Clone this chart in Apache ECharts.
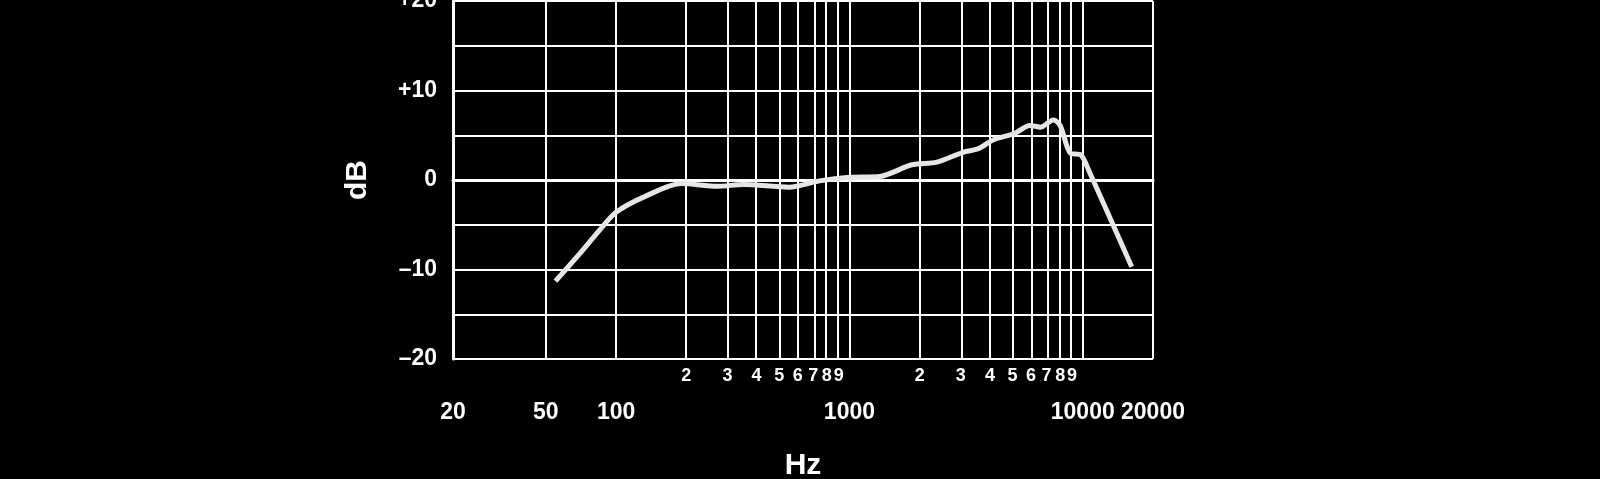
<!DOCTYPE html>
<html><head><meta charset="utf-8">
<script src="https://cdn.jsdelivr.net/npm/echarts@6/dist/echarts.min.js"></script>
<style>html,body{margin:0;background:#000}#c{width:1600px;height:479px}</style>
</head><body><div id="c"></div>
<script>
const freqs = [55,70,85,100,134,191,272,350,551,744,1000,1350,1850,2370,3070,3570,4150,5100,5940,6570,7490,8000,8850,9800,10600,16200];
const dB    = [-11.3,-8.2,-5.6,-3.6,-1.8,-0.4,-0.7,-0.5,-0.8,-0.1,0.3,0.4,1.7,2.0,3.1,3.5,4.5,5.2,6.1,5.9,6.7,6.1,3.0,2.8,1.1,-9.7];
const gridFreqs = [50,100,200,300,400,500,600,700,800,900,1000,2000,3000,4000,5000,6000,7000,8000,9000,10000];
const minorLabels = [200,300,400,500,600,700,800,900,2000,3000,4000,5000,6000,7000,8000,9000];
const majorLabels = [20,50,100,1000,10000,20000];
const yTicks = [-20,-10,0,10,20];
const L = Math.log10;
const font = 'Liberation Sans, Arial, sans-serif';
const chart = echarts.init(document.getElementById('c'));
const xBase = {type:'value', min:L(20), max:L(20000), position:'bottom', splitLine:{show:false}, axisTick:{show:false}};
chart.setOption({
  backgroundColor:'#000',
  animation:false,
  grid:{left:453,right:447,top:1,bottom:120,outerBoundsMode:'none',containLabel:false},
  xAxis:[
    Object.assign({}, xBase, {
      axisLine:{show:true,lineStyle:{color:'#fff',width:3}},
      axisLabel:{customValues:minorLabels.map(L), color:'#fff', fontFamily:font, fontWeight:'bold', fontSize:18, margin:8,
        formatter:v=>{const f=Math.round(Math.pow(10,v)); return String(Math.round(f/Math.pow(10,Math.floor(Math.log10(f)+1e-9))));}},
      name:'Hz', nameLocation:'middle', nameGap:92, nameTextStyle:{color:'#fff',fontFamily:font,fontWeight:'bold',fontSize:30}
    }),
    Object.assign({}, xBase, {
      offset:38, axisLine:{show:false},
      axisLabel:{customValues:majorLabels.map(L), color:'#fff', fontFamily:font, fontWeight:'bold', fontSize:23, margin:4,
        formatter:v=>String(Math.round(Math.pow(10,v)))}
    })
  ],
  yAxis:{type:'value',min:-20,max:20,interval:5,
    axisLine:{show:true,lineStyle:{color:'#fff',width:3}}, axisTick:{show:false},
    splitLine:{show:true,lineStyle:{color:'#fff',width:2}},
    axisLabel:{color:'#fff',fontFamily:font,fontWeight:'bold',fontSize:23,margin:16,
      formatter:v=>yTicks.includes(v)?(v>0?'+'+v:(v<0?'\u2013'+(-v):'0')):''},
    name:'dB',nameLocation:'middle',nameGap:80,nameRotate:90,nameTextStyle:{color:'#fff',fontFamily:font,fontWeight:'bold',fontSize:30}
  },
  series:[{
    type:'line', xAxisIndex:0, smooth:0.3, symbol:'none',
    data:freqs.map((f,i)=>[L(f),dB[i]]),
    lineStyle:{color:'#e6e6e6',width:5},
    z:5,
    markLine:{silent:true,symbol:'none',label:{show:false},
      lineStyle:{color:'#fff',width:2,type:'solid'},
      data:gridFreqs.map(f=>({xAxis:L(f)})).concat([{xAxis:L(20000)}])}
  }]
});
</script></body></html>
